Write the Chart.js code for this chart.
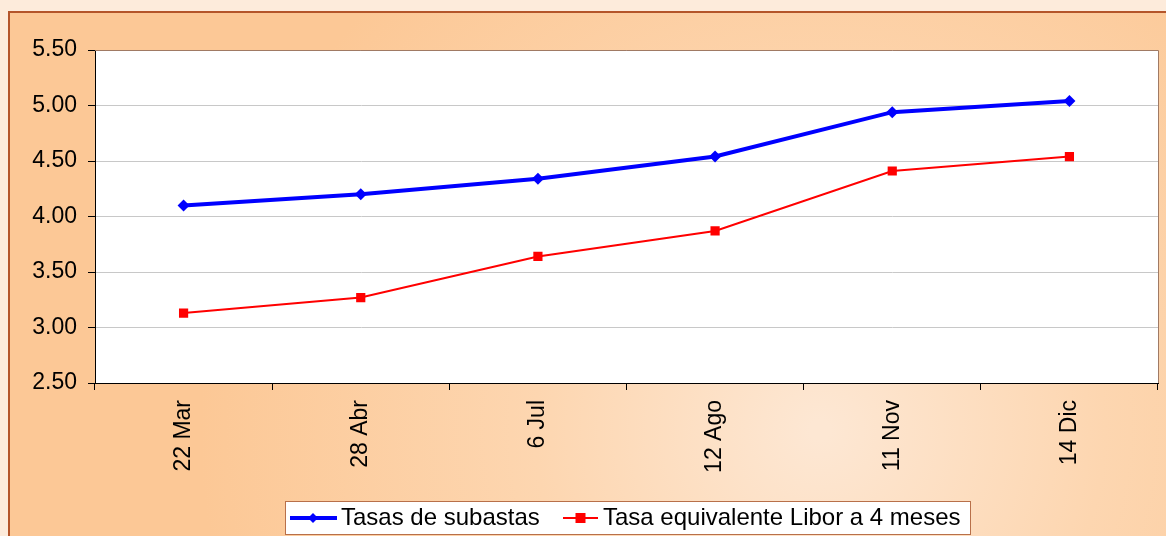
<!DOCTYPE html>
<html lang="es">
<head>
    <meta charset="UTF-8">
    <title>Tasas de subastas</title>
    <script src="https://cdn.jsdelivr.net/npm/chart.js"></script>
    <style>
        body { margin: 0; background: #fdebdb; }
        canvas { display: block; }
    </style>
</head>
<body>
    <canvas id="myChart" width="1166" height="536"></canvas>

    <script>
        // data
        const fechas = ['22 Mar', '28 Abr', '6 Jul', '12 Ago', '11 Nov', '14 Dic'];
        const tasasSubastas = [4.10, 4.20, 4.34, 4.54, 4.94, 5.04];
        const tasaLibor = [3.13, 3.27, 3.64, 3.87, 4.41, 4.54];
        const nombres = ['Tasas de subastas', 'Tasa equivalente Libor a 4 meses'];
        const yMin = 2.5, yMax = 5.5, yStep = 0.5;

        const FONT = '"Liberation Sans", Arial, sans-serif';

        // background, white plot area, plot border and the boxed legend
        const fondo = {
            id: 'fondo',
            beforeDraw(chart) {
                const ctx = chart.ctx;
                const a = chart.chartArea;
                ctx.save();
                ctx.fillStyle = '#fdebdb';
                ctx.fillRect(0, 0, chart.width, chart.height);
                const g = ctx.createRadialGradient(820, 430, 10, 820, 430, 620);
                g.addColorStop(0, '#fde7d3');
                g.addColorStop(0.45, '#fdd6b0');
                g.addColorStop(1, '#fcc896');
                ctx.fillStyle = g;
                ctx.fillRect(8, 11, chart.width, chart.height);
                ctx.strokeStyle = '#b4552a';
                ctx.lineWidth = 2;
                ctx.beginPath();
                ctx.moveTo(9, chart.height);
                ctx.lineTo(9, 12);
                ctx.lineTo(chart.width, 12);
                ctx.stroke();
                ctx.fillStyle = '#ffffff';
                ctx.fillRect(a.left, a.top, a.right - a.left, a.bottom - a.top);
                ctx.restore();
            },
            afterDatasetsDraw(chart) {
                const ctx = chart.ctx;
                const a = chart.chartArea;
                ctx.save();
                ctx.strokeStyle = '#a07a64';
                ctx.lineWidth = 1;
                ctx.beginPath();
                ctx.moveTo(a.left, a.top + 0.5);
                ctx.lineTo(a.right + 0.5, a.top + 0.5);
                ctx.lineTo(a.right + 0.5, a.bottom);
                ctx.stroke();
                ctx.restore();
            },
            afterDraw(chart) {
                const ctx = chart.ctx;
                ctx.save();
                ctx.fillStyle = '#ffffff';
                ctx.fillRect(285, 501, 685, 33);
                ctx.strokeStyle = '#b8704a';
                ctx.lineWidth = 1;
                ctx.strokeRect(285.5, 501.5, 685, 33);
                const cy = 518;
                // blue item
                ctx.strokeStyle = '#0000ff';
                ctx.lineWidth = 4;
                ctx.beginPath();
                ctx.moveTo(290, cy);
                ctx.lineTo(337, cy);
                ctx.stroke();
                ctx.fillStyle = '#0000ff';
                ctx.beginPath();
                ctx.moveTo(313, cy - 5);
                ctx.lineTo(318, cy);
                ctx.lineTo(313, cy + 5);
                ctx.lineTo(308, cy);
                ctx.closePath();
                ctx.fill();
                // red item
                ctx.strokeStyle = '#ff0000';
                ctx.lineWidth = 2;
                ctx.beginPath();
                ctx.moveTo(563, cy);
                ctx.lineTo(598, cy);
                ctx.stroke();
                ctx.fillStyle = '#ff0000';
                ctx.fillRect(575.5, cy - 5, 10, 10);
                ctx.fillStyle = '#000000';
                ctx.font = '24px ' + FONT;
                ctx.textBaseline = 'middle';
                ctx.fillText(nombres[0], 341, cy);
                ctx.fillText(nombres[1], 603, cy);
                ctx.restore();
            }
        };

        const ctx = document.getElementById('myChart').getContext('2d');
        const myChart = new Chart(ctx, {
            type: 'line',
            data: {
                labels: fechas,
                datasets: [{
                    label: nombres[0],
                    data: tasasSubastas,
                    borderColor: '#0000ff',
                    backgroundColor: '#0000ff',
                    borderWidth: 4,
                    tension: 0,
                    pointStyle: 'rectRot',
                    pointRadius: 6,
                    pointBorderWidth: 0
                }, {
                    label: nombres[1],
                    data: tasaLibor,
                    borderColor: '#ff0000',
                    backgroundColor: '#ff0000',
                    borderWidth: 2,
                    tension: 0,
                    pointStyle: 'rect',
                    pointRadius: 6.5,
                    pointBorderWidth: 0
                }]
            },
            options: {
                responsive: false,
                maintainAspectRatio: false,
                animation: false,
                layout: { padding: { top: 50, right: 8, left: 0, bottom: 0 } },
                plugins: {
                    legend: { display: false },
                    tooltip: { enabled: false }
                },
                scales: {
                    x: {
                        offset: true,
                        afterFit(scale) { scale.height = 153; },
                        grid: {
                            offset: true,
                            drawOnChartArea: false,
                            tickLength: 7,
                            tickColor: '#000000'
                        },
                        border: { color: '#000000', width: 1 },
                        ticks: {
                            color: '#000000',
                            font: { family: FONT, size: 23 },
                            minRotation: 90,
                            maxRotation: 90,
                            padding: 10,
                            autoSkip: false
                        }
                    },
                    y: {
                        min: yMin,
                        max: yMax,
                        afterFit(scale) { scale.width = 95; },
                        grid: {
                            color: '#c8c8c8',
                            tickLength: 7,
                            tickColor: '#000000'
                        },
                        border: { color: '#000000', width: 1 },
                        ticks: {
                            stepSize: yStep,
                            color: '#000000',
                            font: { family: FONT, size: 23 },
                            padding: 11,
                            callback: v => v.toFixed(2)
                        }
                    }
                }
            },
            plugins: [fondo]
        });
    </script>
</body>
</html>
